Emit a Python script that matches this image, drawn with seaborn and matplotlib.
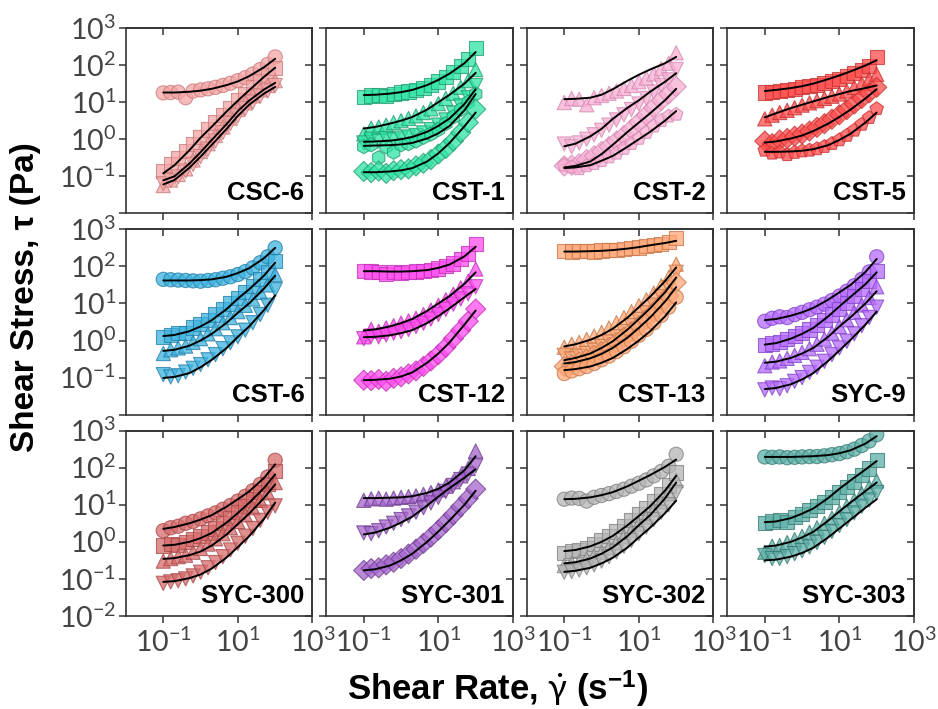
import numpy as np
import pandas as pd
import matplotlib
matplotlib.use("Agg")
import matplotlib.pyplot as plt
from matplotlib.ticker import NullLocator, FixedLocator
import seaborn as sns

# ---------------- data (shear stress given as log10(tau / Pa)) ----------------
RATE = [0.1, 0.158, 0.251, 0.398, 0.631, 1.0, 1.585, 2.512, 3.981, 6.310,
        10.0, 15.85, 25.12, 39.81, 63.10, 100.0]
FIT_RATE = [0.1, 0.2, 0.5, 1.0, 2.0, 5.0, 10.0, 20.0, 50.0, 100.0]

# CSC-6
CSC6_O = [1.25, 1.26, 1.27, 1.12, 1.30, 1.33, 1.36, 1.40, 1.45, 1.51, 1.58, 1.66, 1.76, 1.88, 2.02, 2.22]
CSC6_O_FIT = [1.26, 1.26, 1.28, 1.31, 1.36, 1.46, 1.56, 1.70, 1.94, 2.17]
CSC6_S = [-0.85, -0.68, -0.50, -0.32, -0.12, 0.07, 0.26, 0.45, 0.65, 0.85, 1.05, 1.22, 1.40, 1.57, 1.74, 1.93]
CSC6_S_FIT = [-0.92, -0.70, -0.30, 0.04, 0.34, 0.75, 1.04, 1.32, 1.68, 1.93]
CSC6_T = [-1.25, -1.10, -0.95, -0.80, -0.56, -0.33, -0.12, 0.10, 0.33, 0.57, 0.80, 0.98, 1.17, 1.33, 1.45, 1.58]
CSC6_T_FIT = [-1.11, -1.00, -0.66, -0.35, -0.02, 0.41, 0.76, 1.04, 1.34, 1.52]
CSC6_V = [-1.20, -1.12, -1.02, -0.86, -0.68, -0.47, -0.27, -0.05, 0.18, 0.42, 0.63, 0.83, 1.00, 1.16, 1.30, 1.45]
CSC6_V_FIT = [-1.22, -1.10, -0.77, -0.47, -0.15, 0.28, 0.63, 0.93, 1.23, 1.41]

# CST-1
CST1_S = [1.14, 1.18, 1.20, 1.16, 1.22, 1.26, 1.29, 1.33, 1.39, 1.46, 1.56, 1.68, 1.82, 1.98, 2.17, 2.47]
CST1_S_FIT = [1.19, 1.20, 1.23, 1.27, 1.33, 1.46, 1.60, 1.77, 2.05, 2.35]
CST1_T = [0.14, 0.30, 0.33, 0.38, 0.45, 0.50, 0.56, 0.63, 0.72, 0.82, 0.96, 1.10, 1.24, 1.40, 1.58, 1.88]
CST1_T_FIT = [0.29, 0.33, 0.42, 0.50, 0.60, 0.80, 1.00, 1.20, 1.50, 1.79]
CST1_V = [-0.10, 0.00, -0.05, 0.02, -0.02, 0.03, 0.06, 0.10, 0.17, 0.26, 0.38, 0.52, 0.70, 0.90, 1.12, 1.45]
CST1_V_FIT = [-0.07, -0.06, -0.04, 0.00, 0.06, 0.20, 0.36, 0.56, 0.95, 1.35]
CST1_H = [-0.20, -0.15, -0.50, -0.20, -0.35, -0.15, -0.12, -0.05, 0.05, 0.14, 0.26, 0.42, 0.60, 0.80, 1.00, 1.22]
CST1_H_FIT = [-0.18, -0.17, -0.16, -0.14, -0.10, 0.02, 0.16, 0.36, 0.78, 1.22]
CST1_D = [-0.87, -0.90, -0.86, -0.92, -0.85, -0.82, -0.80, -0.72, -0.65, -0.55, -0.40, -0.25, -0.05, 0.18, 0.45, 0.81]
CST1_D_FIT = [-0.89, -0.89, -0.87, -0.84, -0.78, -0.60, -0.38, -0.10, 0.35, 0.72]

# CST-2
CST2_T = [0.99, 1.10, 1.08, 0.93, 1.12, 1.18, 1.24, 1.30, 1.37, 1.45, 1.55, 1.65, 1.76, 1.90, 2.05, 2.33]
CST2_T_FIT = [1.08, 1.09, 1.12, 1.20, 1.35, 1.58, 1.74, 1.88, 2.05, 2.22]
CST2_V = [-0.13, -0.20, -0.10, 0.00, 0.12, 0.24, 0.38, 0.52, 0.66, 0.80, 0.95, 1.10, 1.27, 1.45, 1.60, 1.88]
CST2_V_FIT = [-0.19, -0.12, 0.08, 0.28, 0.55, 0.85, 1.05, 1.28, 1.55, 1.78]
CST2_D = [-0.72, -0.70, -0.66, -0.55, -0.45, -0.33, -0.20, -0.05, 0.10, 0.27, 0.46, 0.65, 0.85, 1.05, 1.22, 1.42]
CST2_D_FIT = [-0.76, -0.72, -0.60, -0.40, -0.15, 0.20, 0.45, 0.70, 1.05, 1.36]
CST2_P = [-0.70, -0.75, -0.80, -0.72, -0.66, -0.58, -0.48, -0.38, -0.25, -0.12, 0.02, 0.18, 0.35, 0.50, 0.62, 0.67]
CST2_P_FIT = [-0.78, -0.76, -0.70, -0.58, -0.45, -0.20, 0.00, 0.20, 0.50, 0.76]

# CST-5
CST5_S = [1.26, 1.28, 1.30, 1.33, 1.36, 1.40, 1.43, 1.47, 1.52, 1.57, 1.63, 1.70, 1.78, 1.86, 1.97, 2.22]
CST5_S_FIT = [1.30, 1.33, 1.38, 1.43, 1.50, 1.62, 1.72, 1.83, 1.99, 2.13]
CST5_T = [0.55, 0.65, 0.72, 0.78, 0.85, 0.92, 0.98, 1.04, 1.10, 1.16, 1.22, 1.30, 1.40, 1.50, 1.62, 1.75]
CST5_T_FIT = [0.59, 0.70, 0.84, 0.93, 1.02, 1.14, 1.22, 1.30, 1.38, 1.45]
CST5_D = [-0.05, -0.12, -0.02, 0.02, 0.08, 0.14, 0.22, 0.32, 0.42, 0.54, 0.66, 0.80, 0.95, 1.10, 1.25, 1.40]
CST5_D_FIT = [-0.09, -0.06, 0.02, 0.10, 0.22, 0.42, 0.60, 0.80, 1.10, 1.35]
CST5_P = [-0.30, -0.38, -0.35, -0.42, -0.36, -0.32, -0.30, -0.26, -0.20, -0.12, -0.02, 0.10, 0.24, 0.40, 0.58, 0.82]
CST5_P_FIT = [-0.34, -0.34, -0.33, -0.31, -0.27, -0.16, -0.02, 0.15, 0.45, 0.72]

# CST-6
CST6_O = [1.65, 1.64, 1.63, 1.62, 1.61, 1.60, 1.62, 1.64, 1.68, 1.72, 1.78, 1.86, 1.96, 2.10, 2.26, 2.50]
CST6_O_FIT = [1.62, 1.62, 1.62, 1.63, 1.65, 1.72, 1.82, 1.95, 2.22, 2.50]
CST6_S = [0.10, 0.15, 0.20, 0.20, 0.35, 0.45, 0.55, 0.70, 0.85, 1.00, 1.15, 1.30, 1.48, 1.66, 1.85, 2.15]
CST6_S_FIT = [0.12, 0.15, 0.25, 0.38, 0.55, 0.85, 1.13, 1.38, 1.75, 2.10]
CST6_T = [-0.35, -0.25, -0.20, -0.15, -0.05, 0.05, 0.18, 0.32, 0.48, 0.62, 0.78, 0.95, 1.12, 1.30, 1.50, 1.78]
CST6_T_FIT = [-0.28, -0.25, -0.14, 0.00, 0.18, 0.48, 0.75, 1.00, 1.40, 1.75]
CST6_V = [-0.92, -0.98, -0.95, -0.85, -0.75, -0.65, -0.52, -0.38, -0.22, -0.06, 0.10, 0.28, 0.48, 0.70, 0.95, 1.37]
CST6_V_FIT = [-1.01, -0.98, -0.88, -0.72, -0.52, -0.20, 0.10, 0.38, 0.82, 1.22]

# CST-12
CST12_S = [1.88, 1.86, 1.84, 1.80, 1.85, 1.83, 1.85, 1.86, 1.88, 1.90, 1.94, 2.00, 2.08, 2.20, 2.35, 2.60]
CST12_S_FIT = [1.87, 1.87, 1.86, 1.86, 1.87, 1.90, 1.96, 2.05, 2.27, 2.53]
CST12_T = [0.10, 0.30, 0.25, 0.34, 0.40, 0.47, 0.53, 0.60, 0.70, 0.82, 0.95, 1.10, 1.25, 1.42, 1.60, 1.93]
CST12_T_FIT = [0.27, 0.30, 0.38, 0.47, 0.58, 0.80, 1.00, 1.20, 1.53, 1.84]
CST12_V = [0.05, 0.12, 0.10, 0.15, 0.20, 0.24, 0.30, 0.38, 0.47, 0.58, 0.70, 0.84, 0.98, 1.12, 1.26, 1.45]
CST12_V_FIT = [0.09, 0.10, 0.14, 0.20, 0.28, 0.47, 0.66, 0.87, 1.17, 1.39]
CST12_D = [-1.07, -1.08, -1.05, -1.10, -1.02, -0.98, -0.90, -0.82, -0.70, -0.55, -0.38, -0.18, 0.05, 0.28, 0.52, 0.85]
CST12_D_FIT = [-1.07, -1.06, -1.03, -0.97, -0.86, -0.60, -0.35, -0.05, 0.43, 0.81]

# CST-13
CST13_S = [2.42, 2.40, 2.41, 2.42, 2.40, 2.43, 2.44, 2.45, 2.47, 2.49, 2.51, 2.54, 2.57, 2.61, 2.66, 2.76]
CST13_S_FIT = [2.40, 2.40, 2.41, 2.42, 2.44, 2.48, 2.52, 2.57, 2.63, 2.69]
CST13_T = [-0.18, -0.10, -0.05, 0.03, 0.12, 0.22, 0.34, 0.48, 0.62, 0.78, 0.94, 1.10, 1.28, 1.48, 1.70, 2.06]
CST13_T_FIT = [-0.16, -0.10, 0.02, 0.15, 0.32, 0.62, 0.90, 1.18, 1.60, 1.97]
CST13_V = [-0.40, -0.50, -0.42, -0.35, -0.26, -0.16, -0.04, 0.10, 0.24, 0.40, 0.57, 0.75, 0.95, 1.18, 1.42, 1.84]
CST13_V_FIT = [-0.53, -0.47, -0.35, -0.20, -0.02, 0.30, 0.58, 0.87, 1.30, 1.70]
CST13_D = [-0.70, -0.65, -0.58, -0.50, -0.40, -0.30, -0.18, -0.05, 0.09, 0.24, 0.40, 0.57, 0.77, 0.98, 1.20, 1.57]
CST13_D_FIT = [-0.62, -0.58, -0.48, -0.36, -0.20, 0.08, 0.34, 0.62, 1.05, 1.44]
CST13_O = [-0.89, -0.82, -0.76, -0.70, -0.62, -0.52, -0.42, -0.30, -0.17, -0.02, 0.14, 0.30, 0.48, 0.68, 0.90, 1.17]
CST13_O_FIT = [-0.80, -0.77, -0.70, -0.60, -0.47, -0.22, 0.00, 0.25, 0.65, 1.03]

# SYC-9
SYC9_O = [0.52, 0.60, 0.64, 0.62, 0.70, 0.76, 0.83, 0.90, 0.98, 1.08, 1.20, 1.33, 1.48, 1.65, 1.85, 2.26]
SYC9_O_FIT = [0.55, 0.58, 0.67, 0.76, 0.88, 1.10, 1.30, 1.50, 1.85, 2.20]
SYC9_S = [-0.12, -0.08, -0.03, 0.05, 0.12, 0.20, 0.30, 0.42, 0.56, 0.70, 0.86, 1.02, 1.20, 1.40, 1.60, 1.88]
SYC9_S_FIT = [-0.11, -0.07, 0.05, 0.18, 0.34, 0.65, 0.92, 1.18, 1.52, 1.84]
SYC9_T = [-0.68, -0.58, -0.55, -0.48, -0.40, -0.32, -0.22, -0.10, 0.04, 0.20, 0.38, 0.56, 0.76, 0.96, 1.16, 1.45]
SYC9_T_FIT = [-0.60, -0.57, -0.47, -0.35, -0.20, 0.10, 0.38, 0.63, 1.00, 1.33]
SYC9_V = [-1.33, -1.28, -1.30, -1.22, -1.10, -1.00, -0.86, -0.72, -0.56, -0.38, -0.20, -0.02, 0.18, 0.40, 0.62, 0.90]
SYC9_V_FIT = [-1.31, -1.28, -1.18, -1.05, -0.88, -0.55, -0.27, 0.02, 0.43, 0.78]

# SYC-300
SYC300_O = [0.30, 0.38, 0.42, 0.50, 0.55, 0.62, 0.70, 0.78, 0.88, 0.98, 1.10, 1.23, 1.38, 1.55, 1.75, 2.20]
SYC300_O_FIT = [0.35, 0.40, 0.50, 0.60, 0.72, 0.95, 1.15, 1.36, 1.72, 2.09]
SYC300_S = [-0.10, -0.06, -0.08, 0.00, 0.08, 0.16, 0.25, 0.36, 0.50, 0.64, 0.80, 0.96, 1.14, 1.34, 1.55, 1.91]
SYC300_S_FIT = [-0.10, -0.08, 0.00, 0.10, 0.24, 0.52, 0.78, 1.05, 1.45, 1.82]
SYC300_T = [-0.52, -0.45, -0.40, -0.36, -0.28, -0.18, -0.06, 0.08, 0.22, 0.38, 0.55, 0.73, 0.92, 1.12, 1.32, 1.60]
SYC300_T_FIT = [-0.46, -0.44, -0.36, -0.26, -0.10, 0.20, 0.48, 0.76, 1.18, 1.55]
SYC300_V = [-1.12, -1.08, -1.05, -1.00, -0.92, -0.82, -0.70, -0.56, -0.40, -0.22, -0.04, 0.15, 0.36, 0.58, 0.80, 0.97]
SYC300_V_FIT = [-1.08, -1.06, -0.98, -0.88, -0.72, -0.42, -0.14, 0.15, 0.62, 1.06]

# SYC-301
SYC301_T = [1.12, 1.16, 1.18, 1.15, 1.18, 1.20, 1.22, 1.24, 1.28, 1.33, 1.40, 1.50, 1.62, 1.78, 1.98, 2.45]
SYC301_T_FIT = [1.18, 1.18, 1.19, 1.20, 1.23, 1.32, 1.43, 1.60, 1.93, 2.31]
SYC301_V = [0.24, 0.22, 0.30, 0.40, 0.50, 0.60, 0.70, 0.80, 0.92, 1.05, 1.20, 1.36, 1.52, 1.68, 1.83, 2.05]
SYC301_V_FIT = [0.20, 0.25, 0.38, 0.52, 0.68, 0.98, 1.22, 1.45, 1.73, 1.96]
SYC301_D = [-0.77, -0.72, -0.70, -0.62, -0.55, -0.45, -0.33, -0.20, -0.04, 0.13, 0.32, 0.52, 0.73, 0.95, 1.17, 1.42]
SYC301_D_FIT = [-0.77, -0.74, -0.64, -0.50, -0.32, 0.00, 0.28, 0.58, 1.00, 1.38]

# SYC-302
SYC302_O = [1.15, 1.18, 1.17, 1.10, 1.20, 1.25, 1.30, 1.36, 1.42, 1.50, 1.58, 1.67, 1.78, 1.90, 2.04, 2.36]
SYC302_O_FIT = [1.15, 1.16, 1.20, 1.26, 1.34, 1.50, 1.65, 1.80, 2.02, 2.22]
SYC302_S = [-0.30, -0.24, -0.22, -0.16, -0.06, 0.04, 0.15, 0.28, 0.42, 0.58, 0.74, 0.92, 1.10, 1.30, 1.52, 1.87]
SYC302_S_FIT = [-0.25, -0.22, -0.12, 0.00, 0.16, 0.45, 0.70, 0.96, 1.38, 1.78]
SYC302_T = [-0.64, -0.58, -0.54, -0.46, -0.38, -0.28, -0.16, -0.02, 0.14, 0.30, 0.48, 0.67, 0.87, 1.08, 1.30, 1.65]
SYC302_T_FIT = [-0.58, -0.55, -0.45, -0.32, -0.15, 0.16, 0.45, 0.72, 1.17, 1.60]
SYC302_V = [-0.82, -0.80, -0.76, -0.70, -0.62, -0.52, -0.40, -0.27, -0.12, 0.04, 0.22, 0.40, 0.60, 0.80, 1.00, 1.33]
SYC302_V_FIT = [-0.81, -0.78, -0.70, -0.58, -0.43, -0.15, 0.12, 0.38, 0.77, 1.11]

# SYC-303
SYC303_O = [2.29, 2.28, 2.29, 2.27, 2.28, 2.29, 2.30, 2.30, 2.32, 2.35, 2.38, 2.43, 2.50, 2.60, 2.72, 2.89]
SYC303_O_FIT = [2.29, 2.29, 2.29, 2.30, 2.31, 2.34, 2.39, 2.47, 2.65, 2.85]
SYC303_S = [0.50, 0.55, 0.58, 0.54, 0.68, 0.76, 0.85, 0.96, 1.08, 1.20, 1.34, 1.48, 1.63, 1.80, 1.98, 2.20]
SYC303_S_FIT = [0.53, 0.55, 0.64, 0.76, 0.90, 1.18, 1.43, 1.66, 1.95, 2.18]
SYC303_T = [-0.28, -0.12, -0.10, -0.02, 0.06, 0.15, 0.26, 0.38, 0.50, 0.64, 0.80, 0.96, 1.12, 1.30, 1.47, 1.64]
SYC303_T_FIT = [-0.13, -0.10, 0.00, 0.12, 0.27, 0.57, 0.82, 1.06, 1.37, 1.60]
SYC303_V = [-0.37, -0.45, -0.45, -0.40, -0.32, -0.24, -0.14, -0.02, 0.12, 0.28, 0.44, 0.60, 0.78, 0.96, 1.13, 1.33]
SYC303_V_FIT = [-0.50, -0.48, -0.40, -0.30, -0.16, 0.12, 0.36, 0.60, 0.92, 1.15]

PANEL_NAMES = ["CSC-6", "CST-1", "CST-2", "CST-5",
               "CST-6", "CST-12", "CST-13", "SYC-9",
               "SYC-300", "SYC-301", "SYC-302", "SYC-303"]
FILL_COLORS = ["#F4A4A4", "#2EE3A4", "#F8AED2", "#FF4B4B",
               "#3DB3DF", "#FF4CEF", "#FFA878", "#B66BFF",
               "#D76B6B", "#A465CB", "#B5B5B5", "#5FAFA7"]
EDGE_COLORS = ["#C87878", "#1E9A6E", "#D486B2", "#C42E2E",
               "#1F7DA6", "#BE2DB5", "#C47546", "#7F40C6",
               "#A64646", "#6C3A8E", "#7E7E7E", "#347A73"]
SERIES = [
    [("o", CSC6_O, CSC6_O_FIT), ("s", CSC6_S, CSC6_S_FIT), ("^", CSC6_T, CSC6_T_FIT), ("v", CSC6_V, CSC6_V_FIT)],
    [("s", CST1_S, CST1_S_FIT), ("^", CST1_T, CST1_T_FIT), ("v", CST1_V, CST1_V_FIT), ("h", CST1_H, CST1_H_FIT), ("D", CST1_D, CST1_D_FIT)],
    [("^", CST2_T, CST2_T_FIT), ("v", CST2_V, CST2_V_FIT), ("D", CST2_D, CST2_D_FIT), ("p", CST2_P, CST2_P_FIT)],
    [("s", CST5_S, CST5_S_FIT), ("^", CST5_T, CST5_T_FIT), ("D", CST5_D, CST5_D_FIT), ("p", CST5_P, CST5_P_FIT)],
    [("o", CST6_O, CST6_O_FIT), ("s", CST6_S, CST6_S_FIT), ("^", CST6_T, CST6_T_FIT), ("v", CST6_V, CST6_V_FIT)],
    [("s", CST12_S, CST12_S_FIT), ("^", CST12_T, CST12_T_FIT), ("v", CST12_V, CST12_V_FIT), ("D", CST12_D, CST12_D_FIT)],
    [("s", CST13_S, CST13_S_FIT), ("^", CST13_T, CST13_T_FIT), ("v", CST13_V, CST13_V_FIT), ("D", CST13_D, CST13_D_FIT), ("o", CST13_O, CST13_O_FIT)],
    [("o", SYC9_O, SYC9_O_FIT), ("s", SYC9_S, SYC9_S_FIT), ("^", SYC9_T, SYC9_T_FIT), ("v", SYC9_V, SYC9_V_FIT)],
    [("o", SYC300_O, SYC300_O_FIT), ("s", SYC300_S, SYC300_S_FIT), ("^", SYC300_T, SYC300_T_FIT), ("v", SYC300_V, SYC300_V_FIT)],
    [("^", SYC301_T, SYC301_T_FIT), ("v", SYC301_V, SYC301_V_FIT), ("D", SYC301_D, SYC301_D_FIT)],
    [("o", SYC302_O, SYC302_O_FIT), ("s", SYC302_S, SYC302_S_FIT), ("^", SYC302_T, SYC302_T_FIT), ("v", SYC302_V, SYC302_V_FIT)],
    [("o", SYC303_O, SYC303_O_FIT), ("s", SYC303_S, SYC303_S_FIT), ("^", SYC303_T, SYC303_T_FIT), ("v", SYC303_V, SYC303_V_FIT)],
]

XTICKS = [1e-1, 1e1, 1e3]
XTICK_LABELS = [r"$10^{-1}$", r"$10^{1}$", r"$10^{3}$"]
YTICKS = [1e-2, 1e-1, 1e0, 1e1, 1e2, 1e3]
YTICK_LABELS = [r"$10^{-2}$", r"$10^{-1}$", r"$10^{0}$", r"$10^{1}$", r"$10^{2}$", r"$10^{3}$"]

# ---------------- style ----------------
sns.set_style("ticks")
plt.rcParams["font.family"] = ["Liberation Sans", "DejaVu Sans"]
plt.rcParams["mathtext.fontset"] = "custom"
plt.rcParams["mathtext.rm"] = "Lato"
plt.rcParams["mathtext.it"] = "Lato:italic"
plt.rcParams["mathtext.bf"] = "Liberation Sans:bold"

SPINE = "#333333"
TICKLAB = "#444444"

fig = plt.figure(figsize=(9.38, 7.09), dpi=100)
axes = fig.subplots(3, 4)
fig.subplots_adjust(left=0.1343, right=0.9744, top=0.9605, bottom=0.1312,
                    wspace=0.075, hspace=0.086)

for idx, ax in enumerate(axes.flat):
    r, c = divmod(idx, 4)
    ax.set_xscale("log")
    ax.set_yscale("log")
    rows, fit_rows = [], []
    markers = {}
    for k, (mk, pts, fit) in enumerate(SERIES[idx]):
        name = f"s{k}"
        markers[name] = mk
        for x, v in zip(RATE, pts):
            rows.append((x, 10 ** v, name))
        for x, v in zip(FIT_RATE, fit):
            fit_rows.append((x, 10 ** v, name))
    df = pd.DataFrame(rows, columns=["rate", "stress", "series"])
    fdf = pd.DataFrame(fit_rows, columns=["rate", "stress", "series"])
    sns.scatterplot(data=df, x="rate", y="stress", style="series", markers=markers,
                    color=FILL_COLORS[idx], edgecolor=EDGE_COLORS[idx], linewidth=0.8,
                    s=105, alpha=0.75, legend=False, ax=ax, zorder=2)
    sns.lineplot(data=fdf, x="rate", y="stress", units="series", estimator=None,
                 color="black", lw=1.4, legend=False, ax=ax, zorder=3)

    ax.set_xlim(1e-2, 1e3)
    ax.set_ylim(1e-2, 1e3)
    ax.xaxis.set_major_locator(FixedLocator(XTICKS))
    ax.yaxis.set_major_locator(FixedLocator(YTICKS))
    ax.xaxis.set_minor_locator(NullLocator())
    ax.yaxis.set_minor_locator(NullLocator())
    if r == 2:
        ax.set_xticklabels(XTICK_LABELS)
    else:
        ax.set_xticklabels([])
    if c == 0:
        ylabs = list(YTICK_LABELS)
        if r < 2:
            ylabs[0] = ""
        ax.set_yticklabels(ylabs)
    else:
        ax.set_yticklabels([])
    ax.tick_params(axis="both", direction="out", length=5, width=1.1, color=SPINE,
                   labelsize=20.5, labelcolor=TICKLAB)
    ax.tick_params(axis="x", pad=4)
    ax.tick_params(axis="y", pad=2)
    ax.set_xlabel("")
    ax.set_ylabel("")
    for sp in ax.spines.values():
        sp.set_color(SPINE)
        sp.set_linewidth(1.2)

    sec_y = ax.secondary_yaxis("right")
    sec_y.yaxis.set_major_locator(FixedLocator(YTICKS))
    sec_y.yaxis.set_minor_locator(NullLocator())
    sec_y.tick_params(direction="in", length=5, width=1.1, color=SPINE, labelright=False)
    sec_y.spines["right"].set_color(SPINE)
    sec_y.spines["right"].set_linewidth(1.2)
    sec_x = ax.secondary_xaxis("top")
    sec_x.xaxis.set_major_locator(FixedLocator(XTICKS))
    sec_x.xaxis.set_minor_locator(NullLocator())
    sec_x.tick_params(direction="in", length=5, width=1.1, color=SPINE, labeltop=False)
    sec_x.spines["top"].set_color(SPINE)
    sec_x.spines["top"].set_linewidth(1.2)

    ax.text(0.957, 0.07, PANEL_NAMES[idx], transform=ax.transAxes, ha="right",
            va="baseline", fontsize=18.5, fontweight="bold", color="black",
            family=["Liberation Sans", "DejaVu Sans"], zorder=5)

fig.text(0.027, 0.581, "Shear Stress, τ (Pa)", rotation=90, ha="center", va="center",
         fontsize=24, fontweight="bold", color="black")
fig.text(0.53, 0.0127, r"Shear Rate, $\dot{\mathrm{\gamma}}$ (s$^{\mathbf{-1}}$)", ha="center",
         va="baseline", fontsize=25, fontweight="bold", color="black")

fig.savefig("out.png", dpi=100, facecolor="white")
